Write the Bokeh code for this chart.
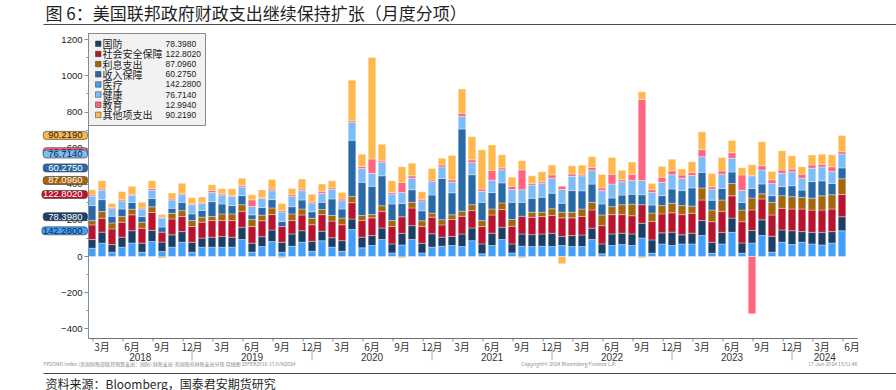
import numpy as np
import pandas as pd
from bokeh.plotting import figure
from bokeh.models import ColumnDataSource, LinearAxis, FixedTicker, Range1d, Label, BoxAnnotation
from bokeh.embed import file_html
from bokeh.resources import INLINE

# ---------------- data ----------------
start_month = "2018-02"
end_month = "2024-05"
axis_end_month = "2024-06"

medical = [46, 74, 24, 52, 75, 24, 83, 28, 52, 79, 24,
           52, 52, 52, 52, 94, 24, 55, 83, 24, 57, 79, 29,
           87, 52, 29, 149, 48, 61, 94, 20, 64, 94, 20, 52,
           57, 61, 55, 88, 15, 61, 94, 20, 57, 55, 57, 55,
           61, 55, 55, 94, 15, 61, 66, 61, 103, 18, 70, 61,
           70, 70, 116, 18, 70, 134, 18, 74, 116, 24, 79, 66,
           79, 70, 64, 74, 142.28]
defense = [48, 61, 42, 55, 68, 50, 61, 52, 68, 59, 55,
           50, 55, 59, 55, 68, 50, 55, 64, 55, 68, 64, 55,
           53, 52, 59, 59, 59, 55, 64, 50, 64, 77, 53, 74,
           50, 50, 70, 70, 55, 68, 68, 50, 68, 66, 68, 74,
           50, 61, 64, 63, 55, 64, 63, 64, 81, 74, 61, 74,
           50, 59, 83, 61, 64, 79, 57, 70, 87, 88, 68, 77,
           59, 64, 70, 64, 78.398]
social_security = [81, 77, 87, 83, 88, 83, 100, 55, 88, 83, 87,
                   88, 92, 88, 92, 88, 92, 88, 85, 87, 74, 87, 92,
                   92, 92, 88, 90, 92, 98, 92, 96, 92, 98, 94, 92,
                   68, 94, 98, 96, 96, 101, 98, 98, 98, 96, 96, 98,
                   103, 98, 103, 101, 101, 107, 103, 101, 103, 103, 105, 107,
                   112, 111, 114, 114, 116, 123, 118, 114, 116, 118, 120, 120,
                   125, 123, 123, 125, 122.802]
interest = [24, 37, 33, 31, 31, 33, 31, -5, 31, 33, 33,
            28, 22, 37, 37, 37, 39, 31, 37, -5, 37, 33, 35,
            28, 31, 37, 35, 28, 18, 31, 33, -5, 31, 31, 22,
            29, 26, 28, 33, 33, 33, 37, 37, -5, 28, 24, 37,
            31, 31, 41, 42, 59, 44, 55, 64, -5, 46, 46, 53,
            50, 39, 66, 64, 63, 68, 64, 66, 28, 70, 70, 68,
            64, 66, 79, 79, 87.096]
income_security = [83, 66, 37, 42, 37, 31, 46, 28, 28, 46, 37,
                   37, 83, 55, 46, 50, 26, 42, 46, 28, 40, 50, 37,
                   40, 92, 50, 311, 184, 157, 166, 92, 74, 70, 55, 101,
                   228, 122, 455, 166, 101, 92, 111, 96, 77, 77, 83, 87,
                   50, 120, 101, 101, 61, 48, 53, 55, 55, 44, 55, 79,
                   83, 101, 87, 55, 64, 64, 42, 53, 55, 37, 50, 61,
                   41, 92, 83, 63, 60.275]
health = [52, 52, 42, 44, 40, 42, 46, 50, 46, 42, 50,
          40, 50, 50, 50, 48, 46, 50, 50, 53, 57, 52, 48,
          50, 52, 46, 98, 77, 72, 74, 55, 61, 64, 55, 74,
          64, 59, 70, 68, 61, 68, 72, 70, 70, 74, 77, 83,
          76, 79, 83, 77, 74, 77, 74, 77, 79, 70, 74, 79,
          68, 68, 87, 61, 79, 76, 68, 70, 77, 68, 74, 77,
          66, 74, 77, 66, 76.714]
education = [7, 7, 7, 7, 6, 6, 9, 4, 6, 7, 6,
             6, 11, 6, 6, 7, 37, 6, 9, 7, 9, 9, 7,
             11, 9, 9, 9, 11, 79, 9, 9, 55, 13, 9, 9,
             11, 13, 17, 15, 13, 55, 11, 18, 110, 9, 9, 18,
             18, 13, 9, 15, 15, 55, 11, 33, 449, 15, 28, 22,
             18, 18, 39, 13, 18, 31, 85, -317, 24, 20, 18, 15,
             22, 18, 15, 26, 12.994]
other = [29, 46, 22, 46, 44, 31, 44, 15, 33, 57, 33,
         28, 33, 28, 37, 42, 28, 42, 52, 40, 35, 55, 42,
         40, 40, 37, 225, 68, 562, 92, 64, 87, 70, 42, 64,
         37, 134, 134, 127, 217, 140, 72, 50, 50, 42, 55, 55,
         -40, 46, 50, 59, 74, 92, 53, 68, 42, 35, 59, 64,
         33, 59, 99, 74, 74, 68, 40, 61, 133, 46, 107, 74,
         41, 55, 55, 66, 90.219]

series = {
    "国防": defense,
    "社会安全保障": social_security,
    "利息支出": interest,
    "收入保障": income_security,
    "医疗": medical,
    "健康": health,
    "教育": education,
    "其他项支出": other,
}
legend_order = ["国防", "社会安全保障", "利息支出", "收入保障", "医疗", "健康", "教育", "其他项支出"]
stack_order = ["医疗", "国防", "社会安全保障", "利息支出", "收入保障", "健康", "教育", "其他项支出"]
colors = {
    "国防": "#1d3f66",
    "社会安全保障": "#b8142f",
    "利息支出": "#a4650b",
    "收入保障": "#2a69a7",
    "医疗": "#42a0fa",
    "健康": "#7dbcf7",
    "教育": "#ff6580",
    "其他项支出": "#ffb84e",
}
tag_text_colors = {
    "国防": "white", "社会安全保障": "white", "利息支出": "white", "收入保障": "white",
    "医疗": "#10253f", "健康": "#10253f", "教育": "#10253f", "其他项支出": "#1a1a1a",
}
title_text = "图 6：美国联邦政府财政支出继续保持扩张（月度分项）"
source_text = "资料来源：Bloomberg，国泰君安期货研究"
y_ticks = [-400, -200, 0, 200, 400, 600, 800, 1000, 1200]

# ---------------- layout helpers (page pixels -> data) ----------------
W, H = 896, 390
X0, X1 = -0.35, 76.55          # data extent of the plotting area
Y0, Y1 = -454, 1235
FL, FR, FT, FB = 88, 857, 33, 338   # plotting area in page pixels


def px2x(px):
    return X0 + (px - FL) * (X1 - X0) / (FR - FL)


def py2y(py):
    return Y1 - (py - FT) * (Y1 - Y0) / (FB - FT)


months = pd.period_range(start_month, end_month, freq="M")
all_months = pd.period_range(start_month, axis_end_month, freq="M")
xs = np.arange(len(months))

p = figure(width=W, height=H, x_range=Range1d(px2x(0), px2x(W)), y_range=Range1d(py2y(H), py2y(0)),
           output_backend="svg", toolbar_location=None, title=None,
           x_axis_location=None, y_axis_location=None,
           min_border=0, min_border_left=0, min_border_right=0,
           min_border_top=0, min_border_bottom=0)
p.outline_line_color = None
p.background_fill_color = "white"
p.border_fill_color = "white"

# ---------------- stacked bars ----------------
pos_prev = np.zeros(len(xs))
neg_prev = np.zeros(len(xs))
for name in stack_order:
    v = np.asarray(series[name], dtype=float)
    bottom = np.where(v >= 0, pos_prev, neg_prev + v)
    top = np.where(v >= 0, pos_prev + v, neg_prev)
    pos_prev = pos_prev + np.clip(v, 0, None)
    neg_prev = neg_prev + np.clip(v, None, 0)
    src = ColumnDataSource(dict(x=xs, bottom=bottom, top=top))
    p.vbar(x="x", width=0.76, bottom="bottom", top="top", source=src,
           fill_color=colors[name], line_color="white", line_width=0.6, line_alpha=0.6)

# ---------------- axes (fixed inside the canvas) ----------------
yax = LinearAxis(fixed_location=X0, bounds=(Y0, Y1),
                 ticker=FixedTicker(ticks=y_ticks, minor_ticks=list(range(-400, 1201, 100))))
yax.axis_line_color = "#7d8fa6"
yax.major_tick_line_color = "#7d8fa6"
yax.minor_tick_line_color = "#7d8fa6"
yax.major_tick_out = 4
yax.major_tick_in = 0
yax.minor_tick_out = 2
yax.minor_tick_in = 0
yax.major_label_standoff = 2
yax.major_label_text_font = "Liberation Sans"
yax.major_label_text_font_size = "9.5px"
yax.major_label_text_color = "#222222"
p.add_layout(yax, "left")

q_ticks = [i for i, m in enumerate(all_months) if m.month % 3 == 0]
q_labels = {i: f"{all_months[i].month}月" for i in q_ticks}
dec_idx = [i for i, m in enumerate(all_months) if m.month == 12]
ax_m = LinearAxis(fixed_location=Y0, bounds=(X0, X1),
                  ticker=FixedTicker(ticks=q_ticks, minor_ticks=[]),
                  major_label_overrides=q_labels)
ax_m.axis_line_color = "#6f6f6f"
ax_m.axis_line_width = 1.2
ax_m.major_tick_line_color = None
ax_m.minor_tick_line_color = None
ax_m.major_tick_out = 0
ax_m.major_tick_in = 0
ax_m.minor_tick_out = 0
ax_m.minor_tick_in = 0
ax_m.major_label_standoff = 0
ax_m.major_label_text_font = "Noto Sans CJK SC"
ax_m.major_label_text_font_size = "10px"
ax_m.major_label_text_color = "#333333"
p.add_layout(ax_m, "below")

# small quarter ticks under the axis line and year separators
qt = [t - 0.9 for t in q_ticks]
p.segment(x0=qt, x1=qt, y0=[Y0] * len(qt), y1=[py2y(341)] * len(qt),
          line_color="#8a8a8a", line_width=1)
p.segment(x0=dec_idx, x1=dec_idx, y0=[py2y(347)] * len(dec_idx), y1=[py2y(360)] * len(dec_idx),
          line_color="#a8a8a8", line_width=1)

years = sorted(set(m.year for m in all_months))
bounds = [X0] + dec_idx + [X1]
year_centers = [(bounds[k] + bounds[k + 1]) / 2 for k in range(len(years))]
ax_y = LinearAxis(fixed_location=py2y(352), bounds=(X0, X1),
                  ticker=FixedTicker(ticks=year_centers, minor_ticks=[]),
                  major_label_overrides={c: str(y) for c, y in zip(year_centers, years)})
ax_y.axis_line_color = None
ax_y.major_tick_line_color = None
ax_y.minor_tick_line_color = None
ax_y.major_tick_out = 0
ax_y.major_tick_in = 0
ax_y.minor_tick_out = 0
ax_y.minor_tick_in = 0
ax_y.major_label_standoff = 0
ax_y.major_label_text_font = "Liberation Sans"
ax_y.major_label_text_font_size = "10px"
ax_y.major_label_text_color = "#333333"
p.add_layout(ax_y, "below")
p.grid.grid_line_color = None

# ---------------- title, rules, footers ----------------
p.add_layout(Label(x=px2x(45), y=py2y(12), text=title_text, text_font="Noto Sans CJK SC",
                   text_font_size="17px", text_color="#1f1f1f", text_baseline="middle"))
for py in (24, 373):
    p.add_layout(BoxAnnotation(left=px2x(43), right=px2x(W + 5), top=py2y(py - 0.6),
                               bottom=py2y(py + 0.6), fill_color="#4a4a4a", fill_alpha=1,
                               line_color=None))
foot_style = dict(text_font="Noto Sans CJK SC", text_font_size="5px", text_color="#8c8c8c",
                  text_baseline="middle")
p.add_layout(Label(x=px2x(43), y=py2y(363),
                   text="FPSOND Index (美国财政部联邦预算支出：国防) 财政支出-美国政府财政支出分项  月线图 28FEB2018-17JUN2024",
                   **foot_style))
p.add_layout(Label(x=px2x(568), y=py2y(363), text="Copyright© 2024 Bloomberg Finance L.P.",
                   text_align="center", **foot_style))
p.add_layout(Label(x=px2x(857), y=py2y(363), text="17-Jun-2024 13:51:46",
                   text_align="right", **foot_style))
p.add_layout(Label(x=px2x(45), y=py2y(382.5), text=source_text, text_font="Noto Sans CJK SC",
                   text_font_size="12px", text_color="#1f1f1f", text_baseline="middle"))

# ---------------- legend (manual, with latest values) ----------------
p.add_layout(BoxAnnotation(left=px2x(88), right=px2x(205), top=py2y(33), bottom=py2y(125),
                           fill_color="#f2f2f2", fill_alpha=1, line_color="#8a8a8a",
                           line_width=1, line_alpha=1))
for k, name in enumerate(legend_order):
    yc = 43.3 + 10.15 * k
    p.add_layout(BoxAnnotation(left=px2x(95), right=px2x(100.5), top=py2y(yc - 2.75),
                               bottom=py2y(yc + 2.75), fill_color=colors[name], fill_alpha=1,
                               line_color="#333333", line_width=0.5, line_alpha=1))
    p.add_layout(Label(x=px2x(102), y=py2y(yc), text=name, text_font="Noto Sans CJK SC",
                       text_font_size="10px", text_color="#222222", text_baseline="middle"))
    p.add_layout(Label(x=px2x(165), y=py2y(yc), text=f"{series[name][-1]:.4f}",
                       text_font="Liberation Sans", text_font_size="8.5px",
                       text_color="#222222", text_baseline="middle"))

# ---------------- last-value tags on the left axis ----------------
last_top = {}
acc = 0.0
for name in stack_order:
    v = series[name][-1]
    acc += max(v, 0)
    last_top[name] = acc
gap = 12.6 * (Y1 - Y0) / (FB - FT)
tag_y = {}
prev = None
for name in sorted([n for n in stack_order if n != "教育"], key=lambda n: -last_top[n]):
    y = last_top[name]
    if prev is not None and prev - y < gap:
        y = prev - gap
    tag_y[name] = y
    prev = y
tag_y["教育"] = last_top["教育"]


def est_width(s, fs=9.5):
    return sum((0.278 if c == "." else 0.556) * fs for c in s)


for name in ["教育"] + [n for n in stack_order if n != "教育"]:
    txt = f"{series[name][-1]:.4f}"
    pl = int(round(max(1.0, 39.0 - est_width(txt))))
    p.add_layout(Label(x=px2x(87), y=tag_y[name], text=txt, text_align="right",
                       text_baseline="middle", text_font="Liberation Sans",
                       text_font_size="9.5px", text_color=tag_text_colors[name],
                       background_fill_color=colors[name], background_fill_alpha=1,
                       border_line_color="#3a3a3a", border_line_width=0.8, border_line_alpha=0.8,
                       border_radius=3,
                       padding=dict(left=pl, right=5, top=1, bottom=1)))

open("out.html", "w").write(file_html(p, INLINE))
